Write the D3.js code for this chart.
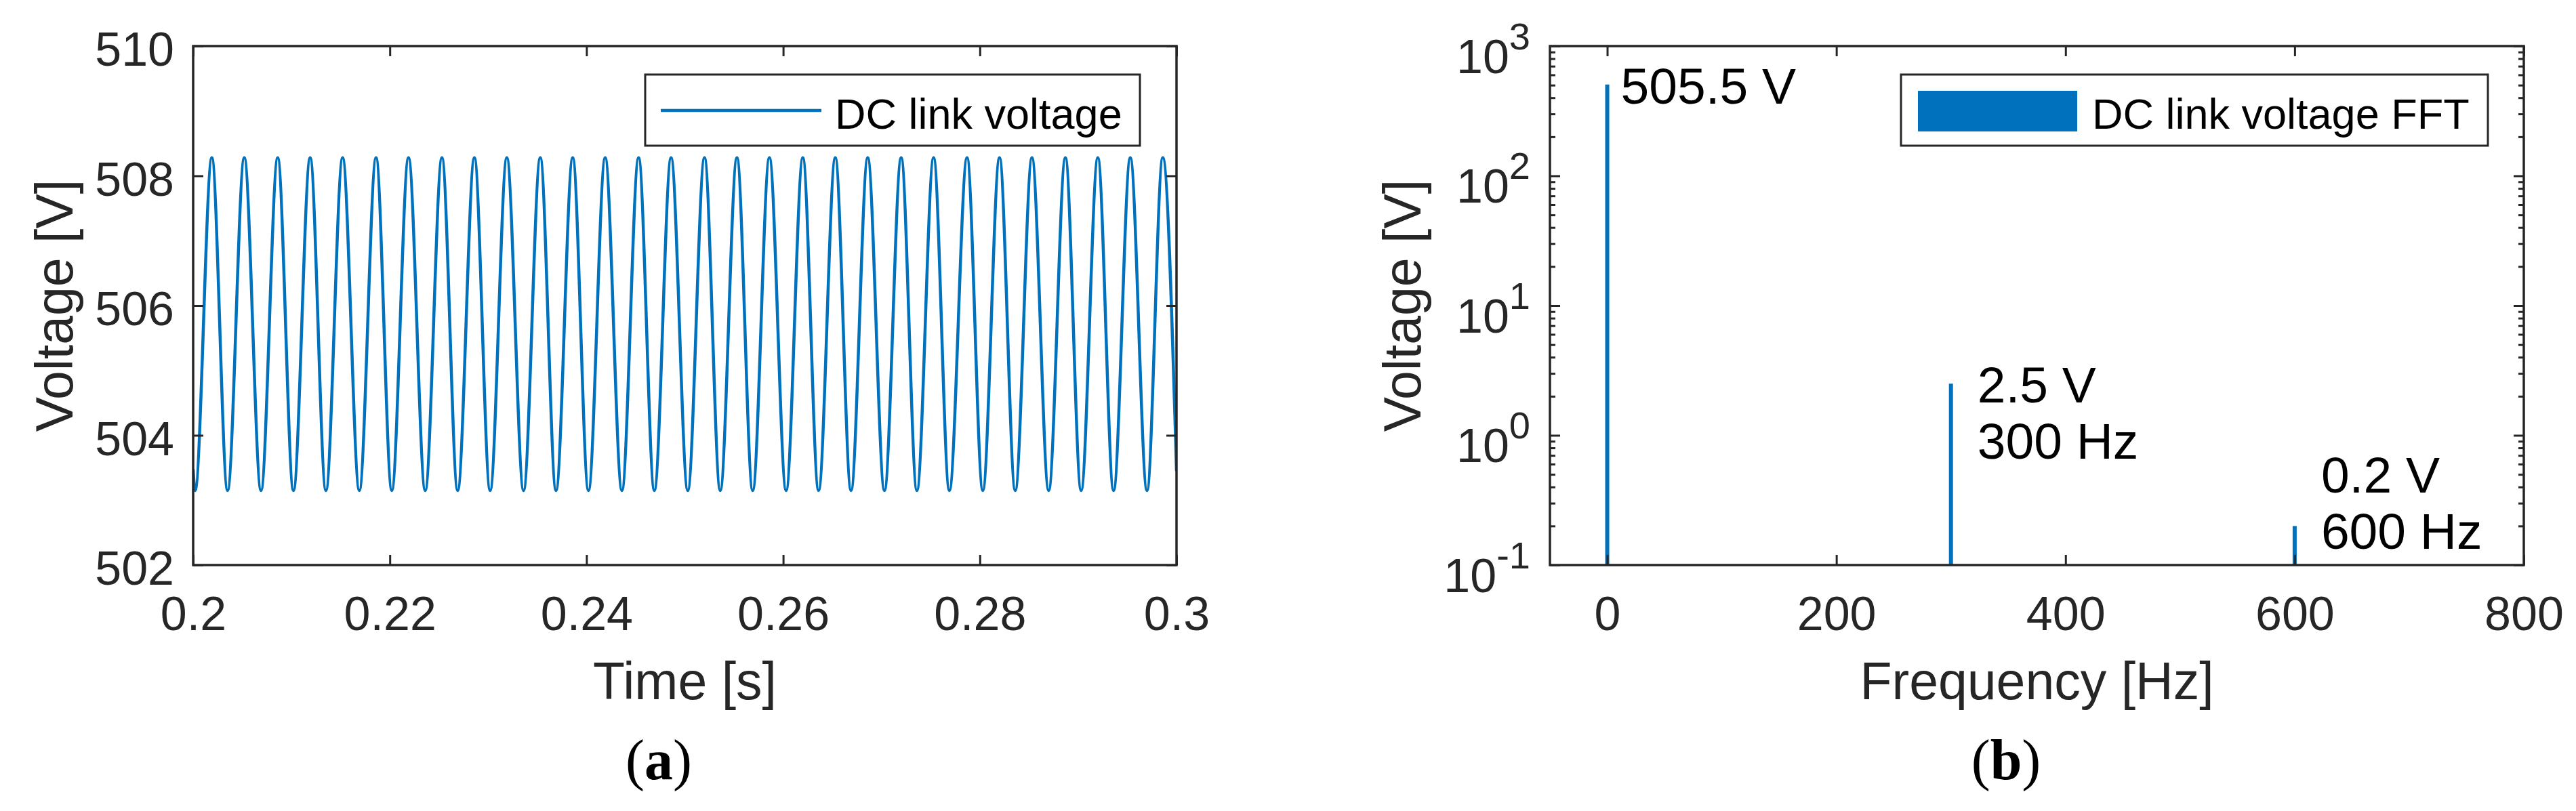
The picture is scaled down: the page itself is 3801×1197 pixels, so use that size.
<!DOCTYPE html>
<html>
<head>
<meta charset="utf-8">
<script src="https://cdn.jsdelivr.net/npm/d3@7"></script>
<style>
  html, body { margin: 0; padding: 0; background: #fff; }
  svg { display: block; }
</style>
</head>
<body>
<script>
// ---------------- DATA ----------------
// (a) DC link voltage: extrema (start, troughs/peaks, end)
const timeSec = [
  0.2000,
  0.2002, 0.2019, 0.2035, 0.2052, 0.2069, 0.2086, 0.2102, 0.2119, 0.2135, 0.2152,
  0.2169, 0.2186, 0.2202, 0.2219, 0.2236, 0.2253, 0.2269, 0.2286, 0.2302, 0.2319,
  0.2336, 0.2353, 0.2369, 0.2386, 0.2402, 0.2419, 0.2436, 0.2453, 0.2469, 0.2486,
  0.2503, 0.2520, 0.2536, 0.2553, 0.2569, 0.2586, 0.2603, 0.2620, 0.2636, 0.2653,
  0.2669, 0.2686, 0.2703, 0.2720, 0.2736, 0.2753, 0.2769, 0.2787, 0.2803, 0.2820,
  0.2836, 0.2853, 0.2870, 0.2887, 0.2903, 0.2920, 0.2936, 0.2953, 0.2970, 0.2986,
  0.3000
];
const voltage = [
  503.48,
  503.15, 508.28, 503.15, 508.28, 503.15, 508.28, 503.15, 508.28, 503.15, 508.28,
  503.15, 508.28, 503.15, 508.28, 503.15, 508.28, 503.15, 508.28, 503.15, 508.28,
  503.15, 508.28, 503.15, 508.28, 503.15, 508.28, 503.15, 508.28, 503.15, 508.28,
  503.15, 508.28, 503.15, 508.28, 503.15, 508.28, 503.15, 508.28, 503.15, 508.28,
  503.15, 508.28, 503.15, 508.28, 503.15, 508.28, 503.15, 508.28, 503.15, 508.28,
  503.15, 508.28, 503.15, 508.28, 503.15, 508.28, 503.15, 508.28, 503.15, 508.28,
  503.45
];
const xTicksA = [0.2, 0.22, 0.24, 0.26, 0.28, 0.3];
const xTickLabelsA = ["0.2", "0.22", "0.24", "0.26", "0.28", "0.3"];
const yTicksA = [502, 504, 506, 508, 510];
const yTickLabelsA = ["502", "504", "506", "508", "510"];

// (b) FFT of DC link voltage
const fftFreq = [0, 300, 600];
const fftAmp = [505.5, 2.5, 0.2];
const fftNotes = [["505.5 V"], ["2.5 V", "300 Hz"], ["0.2 V", "600 Hz"]];
const xTicksB = [0, 200, 400, 600, 800];
const xTickLabelsB = ["0", "200", "400", "600", "800"];
const yTicksB = [0.1, 1, 10, 100, 1000];
const yTickExpB = ["-1", "0", "1", "2", "3"];

const legendA = "DC link voltage";
const legendB = "DC link voltage FFT";

// ---------------- LAYOUT ----------------
const W = 3801, H = 1197;
const T = 68, B = 834;
const A = { L: 285, R: 1736 };
const Bp = { L: 2287, R: 3724 };
const axisColor = "#262626";
const blue = "#0072BD";
const FONT = "'Liberation Sans', Arial, Helvetica, sans-serif";

const svg = d3.select("body").append("svg")
  .attr("width", W).attr("height", H)
  .attr("viewBox", `0 0 ${W} ${H}`);
svg.append("rect").attr("width", W).attr("height", H).attr("fill", "#fff");

function styleAxis(g) {
  g.select(".domain").remove();
  g.selectAll(".tick line").attr("stroke", axisColor).attr("stroke-width", 3);
  g.selectAll(".tick text").attr("fill", axisColor)
    .attr("font-family", FONT).attr("font-size", 70);
  g.attr("font-family", FONT).attr("font-size", 70);
}

function frame(x, y) {
  const [x0, x1] = x.range();
  const [y0, y1] = y.range();
  svg.append("rect")
    .attr("x", Math.min(x0, x1)).attr("y", Math.min(y0, y1))
    .attr("width", Math.abs(x1 - x0)).attr("height", Math.abs(y1 - y0))
    .attr("fill", "none").attr("stroke", axisColor).attr("stroke-width", 3.5);
}

// ================= PANEL (a) =================
const xA = d3.scaleLinear().domain([0.2, 0.3]).range([A.L, A.R]);
const yA = d3.scaleLinear().domain([502, 510]).range([B, T]);

svg.append("clipPath").attr("id", "clipA").append("rect")
  .attr("x", A.L).attr("y", T).attr("width", A.R - A.L).attr("height", B - T);

const pts = timeSec.map((t, i) => [t, voltage[i]]);
svg.append("path")
  .attr("clip-path", "url(#clipA)")
  .attr("d", d3.line().x(d => xA(d[0])).y(d => yA(d[1])).curve(d3.curveMonotoneX)(pts))
  .attr("fill", "none").attr("stroke", blue).attr("stroke-width", 4.5)
  .attr("stroke-linejoin", "round");

svg.append("g").attr("transform", `translate(0,${B})`)
  .call(d3.axisBottom(xA).tickValues(xTicksA).tickFormat((d, i) => xTickLabelsA[i])
    .tickSizeInner(-15).tickSizeOuter(0).tickPadding(46))
  .call(styleAxis);
svg.append("g").attr("transform", `translate(0,${T})`)
  .call(d3.axisTop(xA).tickValues(xTicksA).tickFormat("").tickSizeInner(-15).tickSizeOuter(0))
  .call(styleAxis);
svg.append("g").attr("transform", `translate(${A.L},0)`)
  .call(d3.axisLeft(yA).tickValues(yTicksA).tickFormat((d, i) => yTickLabelsA[i])
    .tickSizeInner(-15).tickSizeOuter(0).tickPadding(28))
  .call(styleAxis)
  .call(g => g.selectAll(".tick text").attr("dy", "0.41em"));
svg.append("g").attr("transform", `translate(${A.R},0)`)
  .call(d3.axisRight(yA).tickValues(yTicksA).tickFormat("").tickSizeInner(-15).tickSizeOuter(0))
  .call(styleAxis);
frame(xA, yA);

// axis labels
svg.append("text").attr("x", (A.L + A.R) / 2).attr("y", 1032)
  .attr("text-anchor", "middle").attr("font-family", FONT).attr("font-size", 77)
  .attr("fill", axisColor).text("Time [s]");
svg.append("text").attr("transform", `translate(107,${(T + B) / 2}) rotate(-90)`)
  .attr("text-anchor", "middle").attr("font-family", FONT).attr("font-size", 77)
  .attr("fill", axisColor).text("Voltage [V]");

// legend (a)
svg.append("rect").attr("x", 952).attr("y", 110).attr("width", 730).attr("height", 105)
  .attr("fill", "#fff").attr("stroke", axisColor).attr("stroke-width", 3);
svg.append("line").attr("x1", 975).attr("x2", 1212).attr("y1", 163).attr("y2", 163)
  .attr("stroke", blue).attr("stroke-width", 4.5);
svg.append("text").attr("x", 1232).attr("y", 190).attr("font-family", FONT)
  .attr("font-size", 63).attr("fill", "#000").text(legendA);

// caption (a)
function caption(x, letter) {
  const t = svg.append("text").attr("x", x).attr("y", 1150).attr("text-anchor", "middle")
    .attr("font-family", "'Liberation Serif', 'Times New Roman', serif").attr("font-size", 84)
    .attr("fill", "#000");
  t.append("tspan").text("(");
  t.append("tspan").attr("font-weight", "bold").text(letter);
  t.append("tspan").text(")");
}
caption(972, "a");

// ================= PANEL (b) =================
const xB = d3.scaleLinear().domain([-50, 800]).range([Bp.L, Bp.R]);
const yB = d3.scaleLog().domain([0.1, 1000]).range([B, T]);

svg.append("clipPath").attr("id", "clipB").append("rect")
  .attr("x", Bp.L).attr("y", T).attr("width", Bp.R - Bp.L).attr("height", B - T);

svg.append("g").attr("clip-path", "url(#clipB)")
  .selectAll("rect").data(fftFreq).join("rect")
  .attr("x", d => xB(d) - 3)
  .attr("width", 6)
  .attr("y", (d, i) => yB(fftAmp[i]))
  .attr("height", (d, i) => yB(0.1) - yB(fftAmp[i]))
  .attr("fill", blue);

// minor log ticks
const minorB = [];
[0.1, 1, 10, 100].forEach(dec => { for (let k = 2; k <= 9; k++) minorB.push(k * dec); });

svg.append("g").attr("transform", `translate(0,${B})`)
  .call(d3.axisBottom(xB).tickValues(xTicksB).tickFormat((d, i) => xTickLabelsB[i])
    .tickSizeInner(-15).tickSizeOuter(0).tickPadding(46))
  .call(styleAxis);
svg.append("g").attr("transform", `translate(0,${T})`)
  .call(d3.axisTop(xB).tickValues(xTicksB).tickFormat("").tickSizeInner(-15).tickSizeOuter(0))
  .call(styleAxis);
svg.append("g").attr("transform", `translate(${Bp.L},0)`)
  .call(d3.axisLeft(yB).tickValues(yTicksB).tickFormat(() => "")
    .tickSizeInner(-15).tickSizeOuter(0).tickPadding(29))
  .call(styleAxis)
  .call(g => g.selectAll(".tick text").attr("dy", "0.56em").each(function (d, i) {
    const t = d3.select(this).text(null);
    t.append("tspan").text("10");
    t.append("tspan").attr("dy", -35).attr("font-size", 56).text(yTickExpB[i]);
  }));
svg.append("g").attr("transform", `translate(${Bp.L},0)`)
  .call(d3.axisLeft(yB).tickValues(minorB).tickFormat("").tickSizeInner(-8).tickSizeOuter(0))
  .call(styleAxis);
svg.append("g").attr("transform", `translate(${Bp.R},0)`)
  .call(d3.axisRight(yB).tickValues(yTicksB).tickFormat("").tickSizeInner(-15).tickSizeOuter(0))
  .call(styleAxis);
svg.append("g").attr("transform", `translate(${Bp.R},0)`)
  .call(d3.axisRight(yB).tickValues(minorB).tickFormat("").tickSizeInner(-8).tickSizeOuter(0))
  .call(styleAxis);
frame(xB, yB);

// annotations
const noteDx = [20, 39, 39];
const noteDy = [28, 28, -49];
fftFreq.forEach((f, i) => {
  const x0 = xB(f) + noteDx[i];
  const y0 = yB(fftAmp[i]) + noteDy[i];
  fftNotes[i].forEach((s, j) => {
    svg.append("text").attr("x", x0).attr("y", y0 + j * 83)
      .attr("font-family", FONT).attr("font-size", 75).attr("fill", "#000").text(s);
  });
});

// axis labels
svg.append("text").attr("x", (Bp.L + Bp.R) / 2).attr("y", 1032)
  .attr("text-anchor", "middle").attr("font-family", FONT).attr("font-size", 77)
  .attr("fill", axisColor).text("Frequency [Hz]");
svg.append("text").attr("transform", `translate(2096,${(T + B) / 2}) rotate(-90)`)
  .attr("text-anchor", "middle").attr("font-family", FONT).attr("font-size", 77)
  .attr("fill", axisColor).text("Voltage [V]");

// legend (b)
svg.append("rect").attr("x", 2805).attr("y", 110).attr("width", 866).attr("height", 105)
  .attr("fill", "#fff").attr("stroke", axisColor).attr("stroke-width", 3);
svg.append("rect").attr("x", 2830).attr("y", 134).attr("width", 235).attr("height", 60)
  .attr("fill", blue);
svg.append("text").attr("x", 3087).attr("y", 190).attr("font-family", FONT)
  .attr("font-size", 63).attr("fill", "#000").text(legendB);

caption(2960, "b");
</script>
</body>
</html>
